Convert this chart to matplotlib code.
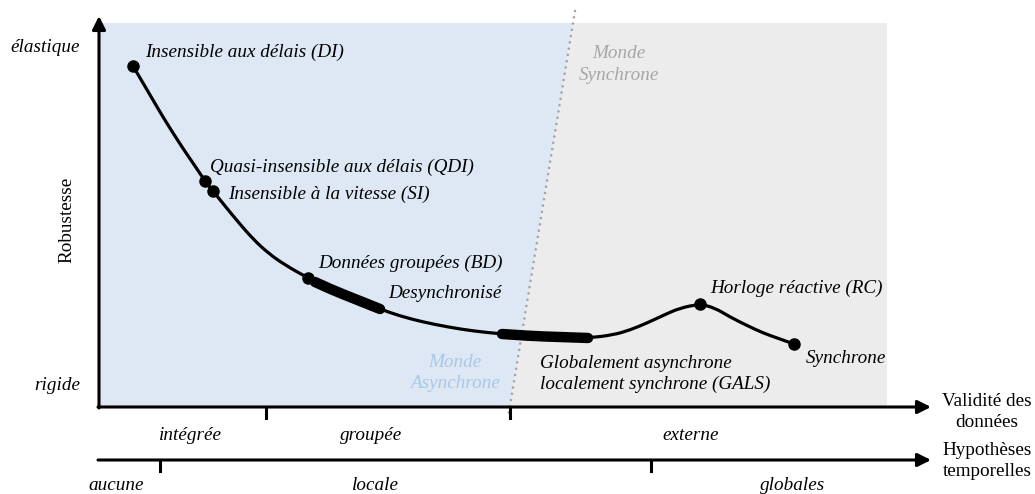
import matplotlib
matplotlib.use("Agg")
import matplotlib.pyplot as plt
from matplotlib.patches import Polygon, PathPatch
from matplotlib.path import Path

plt.rcParams['font.family'] = ['Liberation Serif', 'DejaVu Serif']

# ================================
# Data (figure pixel units, y downward)
# ================================
curve_x = [133, 143, 153, 163, 173, 184, 195, 205, 213, 225, 239, 253, 268, 285,
           308, 330, 355, 380, 400, 423, 448, 473, 502, 530, 560, 588, 613, 630,
           647, 664, 680, 700, 715, 730, 746, 763, 780, 794]
curve_y = [66, 83, 100, 117, 133, 150, 166, 181, 191, 206, 223, 239, 253, 265,
           278, 289, 299, 309, 316, 322, 327, 331, 334, 336, 337, 338, 335, 330,
           323, 315, 308, 304, 308, 317, 325, 333, 339, 344]

# thick "zones" along the curve
zone1_x = [315, 330, 355, 380]
zone1_y = [282, 289, 299, 309]
zone2_x = [502, 530, 560, 588]
zone2_y = [334, 336, 337, 338]

# labelled design styles
dot_x = [133, 205, 213, 308, 700, 794]
dot_y = [66, 181, 191, 278, 304, 344]
dot_labels = ["Insensible aux délais (DI)",
              "Quasi-insensible aux délais (QDI)",
              "Insensible à la vitesse (SI)",
              "Données groupées (BD)",
              "Horloge réactive (RC)",
              "Synchrone"]
label_x = [145, 210, 228, 318, 710, 806]
label_y = [57, 172, 199, 268, 293, 363]

validity_labels = ["intégrée", "groupée", "externe"]
validity_pos = [190, 371, 691]
timing_labels = ["aucune", "locale", "globales"]
timing_pos = [116, 375, 793]

FS = 13.8


def smooth_path(xs, ys):
    # quadratic bezier through midpoints, points act as control points
    verts = [(xs[0], ys[0])]
    codes = [Path.MOVETO]
    for i in range(1, len(xs) - 1):
        verts += [(xs[i], ys[i]), ((xs[i] + xs[i + 1]) / 2, (ys[i] + ys[i + 1]) / 2)]
        codes += [Path.CURVE3, Path.CURVE3]
    verts.append((xs[-1], ys[-1]))
    codes.append(Path.LINETO)
    return Path(verts, codes)


# ================================
# Figure
# ================================
fig = plt.figure(figsize=(10.35, 4.94), dpi=100)
ax = fig.add_axes([0, 0, 1, 1])
ax.set_xlim(0, 1035)
ax.set_ylim(494, 0)
ax.axis('off')

# background worlds
ax.add_patch(Polygon([(100, 23), (573, 23), (510, 406), (100, 406)],
                     closed=True, facecolor='#dde8f4', edgecolor='none', zorder=0))
ax.add_patch(Polygon([(573, 23), (887, 23), (887, 406), (510, 406)],
                     closed=True, facecolor='#ececec', edgecolor='none', zorder=0))
ax.plot([575, 508], [11, 418], color='#a3a3a3', lw=1.9,
        linestyle=(0, (0.01, 2.4)), dash_capstyle='round', zorder=1)

ax.text(455, 367, "Monde", color='#a9c7e6', fontsize=FS, style='italic', ha='center')
ax.text(455, 388, "Asynchrone", color='#a9c7e6', fontsize=FS, style='italic', ha='center')
ax.text(619, 58, "Monde", color='#a6a6a6', fontsize=FS, style='italic', ha='center')
ax.text(619, 80, "Synchrone", color='#a6a6a6', fontsize=FS, style='italic', ha='center')

# axes arrows
arrow = dict(arrowstyle='-|>', lw=2.2, color='black', mutation_scale=20,
             shrinkA=0, shrinkB=0)
ax.annotate('', xy=(99, 16), xytext=(99, 408), arrowprops=arrow)
ax.annotate('', xy=(931, 407), xytext=(98, 407), arrowprops=arrow)
ax.annotate('', xy=(931, 460), xytext=(98, 460), arrowprops=arrow)

for tx in [266, 510]:
    ax.plot([tx, tx], [407, 418], color='black', lw=2.2)
for tx in [160, 651]:
    ax.plot([tx, tx], [460, 471], color='black', lw=2.2)

# curve
ax.add_patch(PathPatch(smooth_path(curve_x, curve_y), facecolor='none',
                       edgecolor='black', lw=2.3, zorder=3))
ax.add_patch(PathPatch(smooth_path(zone1_x, zone1_y), facecolor='none',
                       edgecolor='black', lw=7.5, capstyle='round', zorder=3))
ax.add_patch(PathPatch(smooth_path(zone2_x, zone2_y), facecolor='none',
                       edgecolor='black', lw=7.5, capstyle='round', zorder=3))
ax.plot(dot_x, dot_y, 'o', color='black', ms=8, zorder=4)

for lab, lx, ly in zip(dot_labels, label_x, label_y):
    ax.text(lx, ly, lab, fontsize=FS, style='italic')
ax.text(502, 298, "Desynchronisé", fontsize=FS, style='italic', ha='right')
ax.text(540, 368, "Globalement asynchrone", fontsize=FS, style='italic')
ax.text(540, 389, "localement synchrone (GALS)", fontsize=FS, style='italic')

# robustness axis
ax.text(80, 52, "élastique", fontsize=FS, style='italic', ha='right')
ax.text(80, 390, "rigide", fontsize=FS, style='italic', ha='right')
ax.text(67, 220, "Robustesse", fontsize=FS, rotation=90, ha='center', va='center')

# bottom axes
for lab, px in zip(validity_labels, validity_pos):
    ax.text(px, 440, lab, fontsize=FS, style='italic', ha='center')
for lab, px in zip(timing_labels, timing_pos):
    ax.text(px, 490, lab, fontsize=FS, style='italic', ha='center')

ax.text(987, 406, "Validité des", fontsize=FS, ha='center')
ax.text(987, 427, "données", fontsize=FS, ha='center')
ax.text(987, 455, "Hypothèses", fontsize=FS, ha='center')
ax.text(987, 476, "temporelles", fontsize=FS, ha='center')

fig.savefig("out.png", dpi=100)
